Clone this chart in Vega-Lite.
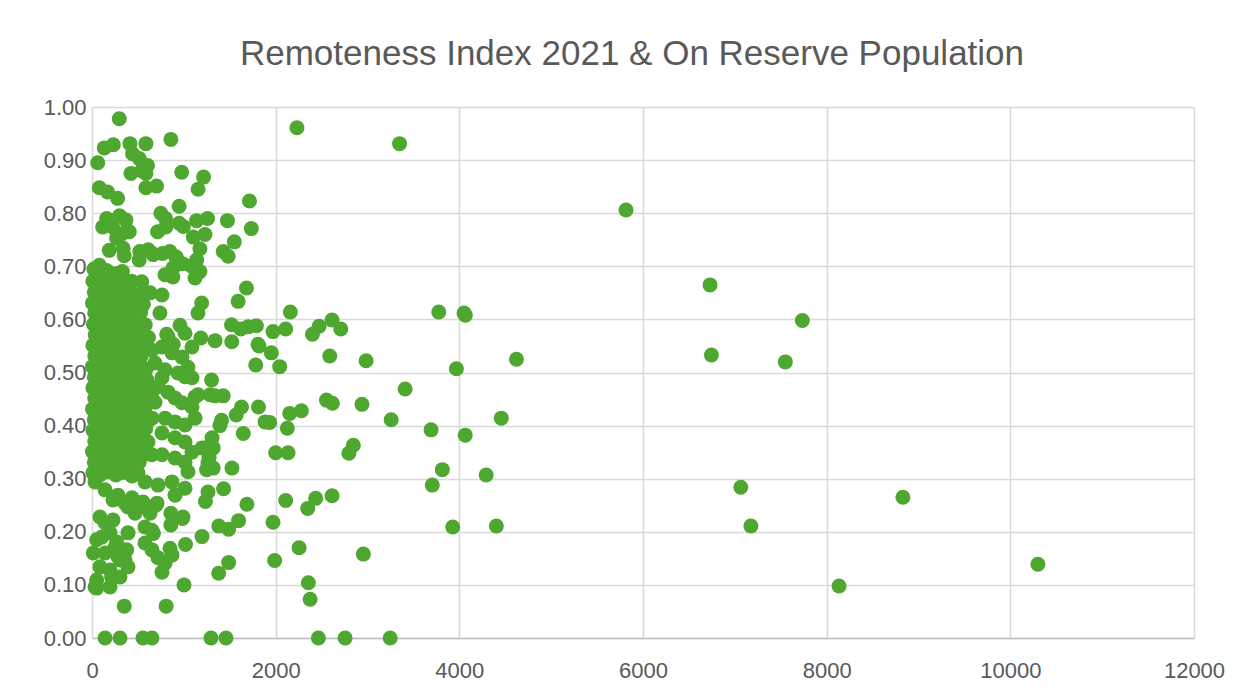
{
  "$schema": "https://vega.github.io/schema/vega-lite/v6.json",
  "autosize": "none",
  "width": 1102,
  "height": 531,
  "padding": {"left": 92, "top": 107, "right": 58, "bottom": 58},
  "background": "#FFFFFF",
  "title": {
    "text": "Remoteness Index 2021 & On Reserve Population",
    "font": "Liberation Sans",
    "fontSize": 35,
    "fontWeight": "normal",
    "color": "#595959",
    "anchor": "middle",
    "dx": -11,
    "offset": 24
  },
  "data": {
    "values": [
      {"pop": 5815, "ri": 0.806}, {"pop": 6730, "ri": 0.665}, {"pop": 6745, "ri": 0.533}, {"pop": 7735, "ri": 0.598},
      {"pop": 7550, "ri": 0.52}, {"pop": 7065, "ri": 0.284}, {"pop": 7175, "ri": 0.211}, {"pop": 8135, "ri": 0.098},
      {"pop": 8830, "ri": 0.265}, {"pop": 10300, "ri": 0.139},

      {"pop": 2232, "ri": 0.961}, {"pop": 3349, "ri": 0.931}, {"pop": 3776, "ri": 0.614}, {"pop": 4051, "ri": 0.612},
      {"pop": 4065, "ri": 0.608}, {"pop": 2160, "ri": 0.614}, {"pop": 1971, "ri": 0.577}, {"pop": 2109, "ri": 0.582},
      {"pop": 2400, "ri": 0.572}, {"pop": 2473, "ri": 0.587}, {"pop": 2614, "ri": 0.599}, {"pop": 2709, "ri": 0.582},
      {"pop": 1953, "ri": 0.537}, {"pop": 2044, "ri": 0.511}, {"pop": 2589, "ri": 0.531}, {"pop": 2985, "ri": 0.522},
      {"pop": 3968, "ri": 0.507}, {"pop": 4622, "ri": 0.525}, {"pop": 3410, "ri": 0.469}, {"pop": 2553, "ri": 0.448},
      {"pop": 2618, "ri": 0.442}, {"pop": 2940, "ri": 0.44}, {"pop": 2153, "ri": 0.423}, {"pop": 2280, "ri": 0.428},
      {"pop": 1935, "ri": 0.406}, {"pop": 2127, "ri": 0.395}, {"pop": 3258, "ri": 0.411}, {"pop": 4457, "ri": 0.414},
      {"pop": 3692, "ri": 0.392}, {"pop": 4064, "ri": 0.382}, {"pop": 2000, "ri": 0.349}, {"pop": 2135, "ri": 0.349},
      {"pop": 2846, "ri": 0.363}, {"pop": 2797, "ri": 0.348}, {"pop": 3815, "ri": 0.317}, {"pop": 3705, "ri": 0.288},
      {"pop": 4292, "ri": 0.307}, {"pop": 2109, "ri": 0.259}, {"pop": 2436, "ri": 0.263}, {"pop": 2614, "ri": 0.268},
      {"pop": 2349, "ri": 0.244}, {"pop": 1971, "ri": 0.218}, {"pop": 3928, "ri": 0.209}, {"pop": 4403, "ri": 0.211},
      {"pop": 2255, "ri": 0.17}, {"pop": 2955, "ri": 0.158}, {"pop": 1989, "ri": 0.146}, {"pop": 2356, "ri": 0.104},
      {"pop": 2375, "ri": 0.073}, {"pop": 2465, "ri": 0}, {"pop": 2756, "ri": 0}, {"pop": 3247, "ri": 0},

      {"pop": 1715, "ri": 0.823}, {"pop": 977, "ri": 0.877}, {"pop": 1215, "ri": 0.868}, {"pop": 1155, "ri": 0.845},
      {"pop": 1475, "ri": 0.786}, {"pop": 1735, "ri": 0.771}, {"pop": 1139, "ri": 0.786}, {"pop": 1258, "ri": 0.79},
      {"pop": 1550, "ri": 0.746}, {"pop": 1429, "ri": 0.728}, {"pop": 1483, "ri": 0.719}, {"pop": 1103, "ri": 0.755},
      {"pop": 1230, "ri": 0.76}, {"pop": 1175, "ri": 0.733}, {"pop": 1085, "ri": 0.7}, {"pop": 1140, "ri": 0.712},
      {"pop": 1175, "ri": 0.69}, {"pop": 1194, "ri": 0.631}, {"pop": 1154, "ri": 0.612}, {"pop": 1682, "ri": 0.659},
      {"pop": 1591, "ri": 0.634}, {"pop": 1519, "ri": 0.59}, {"pop": 1620, "ri": 0.582}, {"pop": 1700, "ri": 0.586},
      {"pop": 1790, "ri": 0.588}, {"pop": 1808, "ri": 0.553}, {"pop": 1783, "ri": 0.514}, {"pop": 1340, "ri": 0.56},
      {"pop": 1185, "ri": 0.565}, {"pop": 1522, "ri": 0.558}, {"pop": 1819, "ri": 0.55}, {"pop": 1302, "ri": 0.486},
      {"pop": 1338, "ri": 0.456}, {"pop": 1429, "ri": 0.456}, {"pop": 1628, "ri": 0.435}, {"pop": 1570, "ri": 0.42},
      {"pop": 1813, "ri": 0.435}, {"pop": 1885, "ri": 0.407}, {"pop": 1647, "ri": 0.385}, {"pop": 1393, "ri": 0.4},
      {"pop": 1411, "ri": 0.41}, {"pop": 1266, "ri": 0.36}, {"pop": 1320, "ri": 0.358}, {"pop": 1275, "ri": 0.34},
      {"pop": 1248, "ri": 0.317}, {"pop": 1320, "ri": 0.32}, {"pop": 1524, "ri": 0.32}, {"pop": 1433, "ri": 0.281},
      {"pop": 1235, "ri": 0.257}, {"pop": 1687, "ri": 0.252}, {"pop": 1380, "ri": 0.211}, {"pop": 1488, "ri": 0.205},
      {"pop": 1596, "ri": 0.221}, {"pop": 1198, "ri": 0.191}, {"pop": 1018, "ri": 0.176}, {"pop": 1488, "ri": 0.142},
      {"pop": 1379, "ri": 0.122}, {"pop": 1002, "ri": 0.1}, {"pop": 351, "ri": 0.06}, {"pop": 807, "ri": 0.06},
      {"pop": 142, "ri": 0}, {"pop": 305, "ri": 0}, {"pop": 555, "ri": 0}, {"pop": 653, "ri": 0},
      {"pop": 1296, "ri": 0}, {"pop": 1459, "ri": 0},

      {"pop": 297, "ri": 0.978}, {"pop": 859, "ri": 0.939}, {"pop": 134, "ri": 0.923}, {"pop": 232, "ri": 0.929},
      {"pop": 413, "ri": 0.931}, {"pop": 587, "ri": 0.931}, {"pop": 62, "ri": 0.895}, {"pop": 442, "ri": 0.912},
      {"pop": 514, "ri": 0.903}, {"pop": 605, "ri": 0.89}, {"pop": 540, "ri": 0.88}, {"pop": 424, "ri": 0.875},
      {"pop": 587, "ri": 0.875}, {"pop": 80, "ri": 0.848}, {"pop": 170, "ri": 0.84}, {"pop": 587, "ri": 0.848},
      {"pop": 703, "ri": 0.851}, {"pop": 279, "ri": 0.828}, {"pop": 949, "ri": 0.813}, {"pop": 750, "ri": 0.8},
      {"pop": 800, "ri": 0.79}, {"pop": 995, "ri": 0.775}, {"pop": 160, "ri": 0.79}, {"pop": 300, "ri": 0.795},
      {"pop": 370, "ri": 0.787}, {"pop": 116, "ri": 0.774}, {"pop": 225, "ri": 0.774}, {"pop": 333, "ri": 0.762},
      {"pop": 406, "ri": 0.765}, {"pop": 714, "ri": 0.765}, {"pop": 804, "ri": 0.774}, {"pop": 949, "ri": 0.781},
      {"pop": 188, "ri": 0.73}, {"pop": 351, "ri": 0.72}, {"pop": 268, "ri": 0.753}, {"pop": 340, "ri": 0.734},
      {"pop": 521, "ri": 0.728}, {"pop": 612, "ri": 0.731}, {"pop": 666, "ri": 0.722}, {"pop": 847, "ri": 0.728},
      {"pop": 919, "ri": 0.716}, {"pop": 883, "ri": 0.697}, {"pop": 847, "ri": 0.684}, {"pop": 514, "ri": 0.712},
      {"pop": 659, "ri": 0.724}, {"pop": 768, "ri": 0.724}, {"pop": 913, "ri": 0.718}, {"pop": 985, "ri": 0.705},
      {"pop": 80, "ri": 0.702}, {"pop": 188, "ri": 0.687},

      {"pop": 541, "ri": 0.671}, {"pop": 795, "ri": 0.684}, {"pop": 1122, "ri": 0.678}, {"pop": 880, "ri": 0.68},
      {"pop": 632, "ri": 0.65}, {"pop": 762, "ri": 0.646}, {"pop": 740, "ri": 0.612}, {"pop": 958, "ri": 0.589},
      {"pop": 1013, "ri": 0.574}, {"pop": 1089, "ri": 0.548}, {"pop": 828, "ri": 0.567}, {"pop": 871, "ri": 0.537},
      {"pop": 980, "ri": 0.529}, {"pop": 1045, "ri": 0.51}, {"pop": 762, "ri": 0.548}, {"pop": 653, "ri": 0.542},
      {"pop": 686, "ri": 0.518}, {"pop": 795, "ri": 0.505}, {"pop": 937, "ri": 0.499}, {"pop": 1013, "ri": 0.492},
      {"pop": 1089, "ri": 0.49}, {"pop": 813, "ri": 0.572}, {"pop": 885, "ri": 0.553}, {"pop": 431, "ri": 0.672},
      {"pop": 196, "ri": 0.678}, {"pop": 268, "ri": 0.659},

      {"pop": 762, "ri": 0.49}, {"pop": 1154, "ri": 0.458}, {"pop": 1285, "ri": 0.458}, {"pop": 828, "ri": 0.463},
      {"pop": 904, "ri": 0.452}, {"pop": 653, "ri": 0.462}, {"pop": 686, "ri": 0.444}, {"pop": 577, "ri": 0.426},
      {"pop": 653, "ri": 0.414}, {"pop": 795, "ri": 0.414}, {"pop": 904, "ri": 0.407}, {"pop": 1013, "ri": 0.401},
      {"pop": 1122, "ri": 0.414}, {"pop": 762, "ri": 0.386}, {"pop": 904, "ri": 0.377}, {"pop": 1013, "ri": 0.369},
      {"pop": 1089, "ri": 0.35}, {"pop": 1198, "ri": 0.358}, {"pop": 610, "ri": 0.369}, {"pop": 653, "ri": 0.345},
      {"pop": 762, "ri": 0.345}, {"pop": 904, "ri": 0.339}, {"pop": 1013, "ri": 0.331}, {"pop": 1045, "ri": 0.313},
      {"pop": 1307, "ri": 0.377}, {"pop": 1263, "ri": 0.331}, {"pop": 577, "ri": 0.467}, {"pop": 719, "ri": 0.473},
      {"pop": 980, "ri": 0.443}, {"pop": 1089, "ri": 0.435}, {"pop": 1122, "ri": 0.454},

      {"pop": 33, "ri": 0.294}, {"pop": 142, "ri": 0.279}, {"pop": 283, "ri": 0.269}, {"pop": 436, "ri": 0.264},
      {"pop": 555, "ri": 0.256}, {"pop": 436, "ri": 0.305}, {"pop": 577, "ri": 0.294}, {"pop": 719, "ri": 0.288},
      {"pop": 871, "ri": 0.294}, {"pop": 1013, "ri": 0.282}, {"pop": 904, "ri": 0.269}, {"pop": 1263, "ri": 0.275},
      {"pop": 359, "ri": 0.254}, {"pop": 694, "ri": 0.25}, {"pop": 468, "ri": 0.235}, {"pop": 859, "ri": 0.235},
      {"pop": 985, "ri": 0.225}, {"pop": 859, "ri": 0.213}, {"pop": 392, "ri": 0.198}, {"pop": 577, "ri": 0.209},
      {"pop": 653, "ri": 0.203}, {"pop": 577, "ri": 0.179}, {"pop": 653, "ri": 0.166}, {"pop": 719, "ri": 0.151},
      {"pop": 795, "ri": 0.141}, {"pop": 762, "ri": 0.124}, {"pop": 849, "ri": 0.169}, {"pop": 871, "ri": 0.156},
      {"pop": 87, "ri": 0.228}, {"pop": 229, "ri": 0.222}, {"pop": 196, "ri": 0.198}, {"pop": 51, "ri": 0.185},
      {"pop": 269, "ri": 0.181}, {"pop": 378, "ri": 0.166}, {"pop": 14, "ri": 0.16}, {"pop": 305, "ri": 0.147},
      {"pop": 87, "ri": 0.134}, {"pop": 196, "ri": 0.128}, {"pop": 51, "ri": 0.109}, {"pop": 305, "ri": 0.115},
      {"pop": 51, "ri": 0.094}, {"pop": 196, "ri": 0.096}, {"pop": 106, "ri": 0.19}, {"pop": 142, "ri": 0.16},
      {"pop": 250, "ri": 0.171}, {"pop": 283, "ri": 0.153}, {"pop": 359, "ri": 0.147}, {"pop": 392, "ri": 0.134},
      {"pop": 214, "ri": 0.115}, {"pop": 33, "ri": 0.096}, {"pop": 142, "ri": 0.217}, {"pop": 392, "ri": 0.247},
      {"pop": 229, "ri": 0.26}, {"pop": 523, "ri": 0.247}, {"pop": 632, "ri": 0.235}, {"pop": 708, "ri": 0.254},
      {"pop": 991, "ri": 0.228}, {"pop": 669, "ri": 0.197},

      {"pop": 20, "ri": 0.695}, {"pop": 75, "ri": 0.688}, {"pop": 160, "ri": 0.692}, {"pop": 250, "ri": 0.686}, {"pop": 330, "ri": 0.69},
      {"pop": 10, "ri": 0.672}, {"pop": 90, "ri": 0.668}, {"pop": 170, "ri": 0.674}, {"pop": 245, "ri": 0.666}, {"pop": 320, "ri": 0.671}, {"pop": 400, "ri": 0.668},
      {"pop": 25, "ri": 0.651}, {"pop": 105, "ri": 0.648}, {"pop": 185, "ri": 0.654}, {"pop": 265, "ri": 0.646}, {"pop": 350, "ri": 0.652}, {"pop": 440, "ri": 0.649}, {"pop": 520, "ri": 0.646},
      {"pop": 5, "ri": 0.631}, {"pop": 85, "ri": 0.628}, {"pop": 170, "ri": 0.633}, {"pop": 250, "ri": 0.627}, {"pop": 330, "ri": 0.632}, {"pop": 410, "ri": 0.629}, {"pop": 490, "ri": 0.634}, {"pop": 560, "ri": 0.628},
      {"pop": 30, "ri": 0.612}, {"pop": 110, "ri": 0.608}, {"pop": 195, "ri": 0.613}, {"pop": 280, "ri": 0.607}, {"pop": 360, "ri": 0.611}, {"pop": 445, "ri": 0.609}, {"pop": 530, "ri": 0.613},
      {"pop": 15, "ri": 0.591}, {"pop": 95, "ri": 0.588}, {"pop": 175, "ri": 0.593}, {"pop": 255, "ri": 0.587}, {"pop": 340, "ri": 0.592}, {"pop": 420, "ri": 0.589}, {"pop": 500, "ri": 0.586}, {"pop": 580, "ri": 0.59},
      {"pop": 35, "ri": 0.571}, {"pop": 120, "ri": 0.567}, {"pop": 200, "ri": 0.572}, {"pop": 285, "ri": 0.568}, {"pop": 365, "ri": 0.573}, {"pop": 450, "ri": 0.569}, {"pop": 535, "ri": 0.571}, {"pop": 615, "ri": 0.566},
      {"pop": 10, "ri": 0.551}, {"pop": 90, "ri": 0.548}, {"pop": 175, "ri": 0.553}, {"pop": 260, "ri": 0.547}, {"pop": 345, "ri": 0.552}, {"pop": 425, "ri": 0.549}, {"pop": 510, "ri": 0.554}, {"pop": 590, "ri": 0.548},
      {"pop": 30, "ri": 0.531}, {"pop": 115, "ri": 0.527}, {"pop": 195, "ri": 0.532}, {"pop": 280, "ri": 0.528}, {"pop": 365, "ri": 0.533}, {"pop": 450, "ri": 0.529}, {"pop": 535, "ri": 0.531},
      {"pop": 5, "ri": 0.511}, {"pop": 85, "ri": 0.508}, {"pop": 170, "ri": 0.513}, {"pop": 250, "ri": 0.507}, {"pop": 335, "ri": 0.512}, {"pop": 420, "ri": 0.509}, {"pop": 505, "ri": 0.511}, {"pop": 590, "ri": 0.507},
      {"pop": 25, "ri": 0.491}, {"pop": 110, "ri": 0.487}, {"pop": 190, "ri": 0.493}, {"pop": 275, "ri": 0.488}, {"pop": 355, "ri": 0.492}, {"pop": 440, "ri": 0.489}, {"pop": 520, "ri": 0.491}, {"pop": 600, "ri": 0.486},
      {"pop": 10, "ri": 0.471}, {"pop": 95, "ri": 0.468}, {"pop": 175, "ri": 0.473}, {"pop": 260, "ri": 0.467}, {"pop": 340, "ri": 0.472}, {"pop": 425, "ri": 0.469}, {"pop": 505, "ri": 0.471},
      {"pop": 30, "ri": 0.451}, {"pop": 115, "ri": 0.448}, {"pop": 200, "ri": 0.453}, {"pop": 285, "ri": 0.447}, {"pop": 365, "ri": 0.452}, {"pop": 450, "ri": 0.449}, {"pop": 530, "ri": 0.451}, {"pop": 610, "ri": 0.446},
      {"pop": 5, "ri": 0.431}, {"pop": 90, "ri": 0.428}, {"pop": 170, "ri": 0.433}, {"pop": 255, "ri": 0.427}, {"pop": 340, "ri": 0.432}, {"pop": 420, "ri": 0.429}, {"pop": 500, "ri": 0.431},
      {"pop": 25, "ri": 0.411}, {"pop": 110, "ri": 0.408}, {"pop": 195, "ri": 0.413}, {"pop": 275, "ri": 0.407}, {"pop": 360, "ri": 0.412}, {"pop": 445, "ri": 0.409}, {"pop": 525, "ri": 0.411}, {"pop": 600, "ri": 0.406},
      {"pop": 10, "ri": 0.391}, {"pop": 95, "ri": 0.388}, {"pop": 180, "ri": 0.393}, {"pop": 260, "ri": 0.387}, {"pop": 345, "ri": 0.392}, {"pop": 425, "ri": 0.389}, {"pop": 510, "ri": 0.391}, {"pop": 585, "ri": 0.394},
      {"pop": 30, "ri": 0.371}, {"pop": 115, "ri": 0.368}, {"pop": 195, "ri": 0.373}, {"pop": 280, "ri": 0.367}, {"pop": 360, "ri": 0.372}, {"pop": 440, "ri": 0.369}, {"pop": 520, "ri": 0.371},
      {"pop": 5, "ri": 0.351}, {"pop": 90, "ri": 0.348}, {"pop": 175, "ri": 0.353}, {"pop": 255, "ri": 0.347}, {"pop": 340, "ri": 0.352}, {"pop": 420, "ri": 0.349}, {"pop": 505, "ri": 0.351}, {"pop": 580, "ri": 0.346},
      {"pop": 25, "ri": 0.331}, {"pop": 110, "ri": 0.328}, {"pop": 190, "ri": 0.333}, {"pop": 275, "ri": 0.327}, {"pop": 355, "ri": 0.332}, {"pop": 435, "ri": 0.329}, {"pop": 515, "ri": 0.331},
      {"pop": 10, "ri": 0.311}, {"pop": 95, "ri": 0.308}, {"pop": 180, "ri": 0.313}, {"pop": 260, "ri": 0.307}, {"pop": 340, "ri": 0.312}, {"pop": 420, "ri": 0.309}, {"pop": 500, "ri": 0.311}
    ]
  },
  "mark": {"type": "circle", "size": 225, "color": "#4EA72E", "opacity": 1, "stroke": null},
  "encoding": {
    "x": {
      "field": "pop",
      "type": "quantitative",
      "scale": {"domain": [0, 12000], "nice": false, "zero": true},
      "axis": {
        "title": null,
        "values": [0, 2000, 4000, 6000, 8000, 10000, 12000],
        "format": "d",
        "grid": true,
        "gridColor": "#D9D9D9",
        "gridWidth": 1.5,
        "domain": true,
        "domainColor": "#BFBFBF",
        "domainWidth": 1.5,
        "ticks": false,
        "labelFont": "Liberation Sans",
        "labelFontSize": 22,
        "labelColor": "#595959",
        "labelPadding": 22,
        "labelFlush": false,
        "labelOverlap": false
      }
    },
    "y": {
      "field": "ri",
      "type": "quantitative",
      "scale": {"domain": [0, 1], "nice": false},
      "axis": {
        "title": null,
        "values": [0, 0.1, 0.2, 0.3, 0.4, 0.5, 0.6, 0.7, 0.8, 0.9, 1],
        "format": ".2f",
        "grid": true,
        "gridColor": "#D9D9D9",
        "gridWidth": 1.5,
        "domain": false,
        "ticks": false,
        "labelFont": "Liberation Sans",
        "labelFontSize": 22,
        "labelColor": "#595959",
        "labelPadding": 6,
        "labelFlush": false,
        "labelOverlap": false
      }
    }
  },
  "config": {
    "view": {"stroke": null}
  }
}
